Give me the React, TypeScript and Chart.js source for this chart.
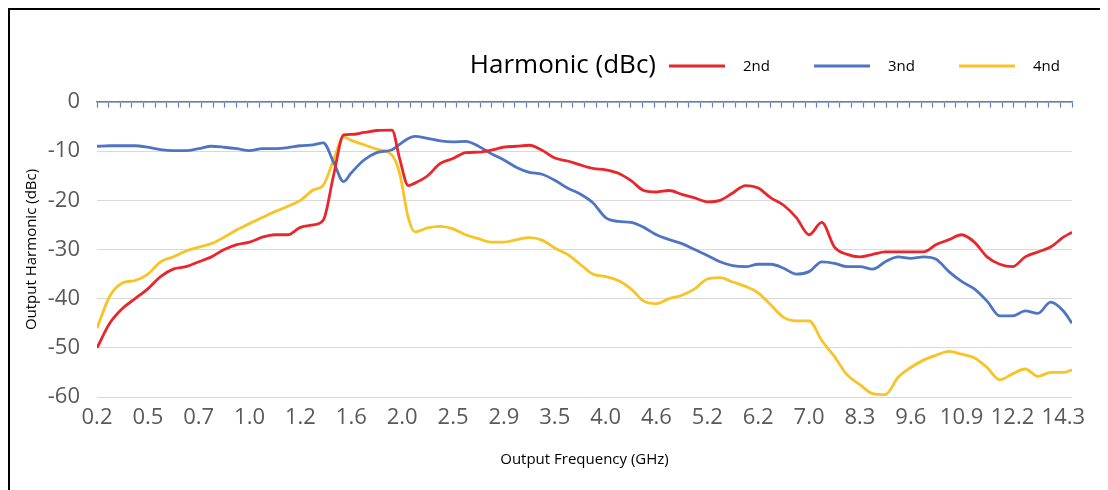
import React, { useEffect, useRef } from "react";
import { Chart, registerables } from "chart.js";

Chart.register(...registerables);

// Category labels shown along the bottom axis (evenly spaced frequencies, GHz)
const xLabels = ["0.2", "0.5", "0.7", "1.0", "1.2", "1.6", "2.0", "2.5", "2.9", "3.5", "4.0", "4.6", "5.2", "6.2", "7.0", "8.3", "9.6", "10.9", "12.2", "14.3"];

// Sample positions along the axis, in label-slot units (0 = "0.2", 19 = "14.3")
const xPos = [
  0, 0.25, 0.5, 0.75, 1, 1.25, 1.5, 1.75, 2, 2.25, 2.5, 2.75, 3, 3.25, 3.5, 3.75,
  4, 4.25, 4.45, 4.65, 4.85, 5, 5.25, 5.5, 5.8, 5.95, 6.12, 6.25, 6.5,
  6.75, 7, 7.25, 7.5, 7.75, 8, 8.25, 8.5, 8.75, 9, 9.25, 9.5, 9.75,
  10, 10.25, 10.5, 10.75, 11, 11.25, 11.5, 11.75, 12, 12.25, 12.5, 12.75, 13, 13.25, 13.5, 13.75,
  14, 14.25, 14.5, 14.75, 15, 15.25, 15.5, 15.75, 16, 16.25, 16.5, 16.75, 17, 17.25, 17.5, 17.75,
  18, 18.25, 18.5, 18.75, 19, 19.17,
];
const xMax = 19.17;

const harmonic2nd = [
  -50, -45, -42, -40, -38, -35.5, -34, -33.5, -32.5, -31.5, -30, -29, -28.5, -27.5, -27, -27,
  -25.5, -25, -24, -15, -6.7, -6.6, -6.2, -5.8, -5.7, -11.5, -17, -16.5, -15,
  -12.5, -11.5, -10.3, -10.2, -9.8, -9.2, -9, -8.8, -9.8, -11.4, -12, -12.8, -13.5,
  -13.8, -14.5, -16, -18, -18.3, -18, -18.8, -19.5, -20.3, -20, -18.5, -17, -17.5, -19.5, -21, -23.5,
  -27, -24.5, -29.5, -31, -31.5, -31, -30.5, -30.5, -30.5, -30.5, -29, -28, -27, -28.5, -31.5, -33,
  -33.5, -31.5, -30.5, -29.5, -27.5, -26.5,
];

const harmonic3rd = [
  -9, -8.9, -8.9, -8.9, -9.2, -9.7, -9.9, -9.9, -9.5, -9, -9.2, -9.5, -9.9, -9.5, -9.5, -9.3,
  -8.9, -8.7, -8.3, -12.2, -16.2, -14.4, -11.8, -10.3, -9.7, -8.6, -7.4, -7, -7.4,
  -7.9, -8.1, -8, -9, -10.5, -11.8, -13.3, -14.3, -14.7, -15.9, -17.5, -18.7, -20.5,
  -23.5, -24.3, -24.5, -25.5, -27, -28, -28.8, -30, -31.2, -32.5, -33.3, -33.5, -33, -33, -33.8, -35,
  -34.5, -32.5, -32.8, -33.5, -33.5, -34, -32.5, -31.5, -31.8, -31.5, -32, -34.5, -36.5, -38, -40.5, -43.5,
  -43.5, -42.5, -43, -40.7, -42.5, -45,
];

const harmonic4th = [
  -46, -39.5, -36.8, -36.3, -35, -32.5, -31.5, -30.3, -29.5, -28.8, -27.5, -26, -24.7, -23.5, -22.3, -21.2,
  -20, -17.9, -16.9, -11.8, -7.1, -7.8, -8.7, -9.6, -10.8, -14.5, -23.5, -26.4, -25.6,
  -25.3, -25.8, -27, -27.8, -28.5, -28.5, -28, -27.6, -28.1, -29.7, -31, -33, -35,
  -35.5, -36.3, -38, -40.5, -41, -40, -39.3, -38, -36, -35.7, -36.6, -37.5, -38.8, -41.3, -43.8, -44.5,
  -44.5, -48.5, -51.8, -55.5, -57.5, -59.3, -59.5, -56, -54, -52.5, -51.5, -50.7, -51.3, -52, -54, -56.5,
  -55.3, -54.3, -55.8, -55, -55, -54.5,
];

const seriesNames = ["2nd", "3nd", "4nd"];
const seriesColors = ["#e8262b", "#4f74c4", "#f7c325"];
const legendTitle = "Harmonic (dBc)";
const yTitle = "Output Harmonic (dBc)";
const xTitle = "Output Frequency (GHz)";
const topTickCount = 85;

const FONT = '"Open Sans", "Noto Sans", sans-serif';
const AXIS_BLUE = "#5b7fc2";

const inlineLegend = {
  id: "inlineLegend",
  afterDraw(chart: any) {
    const ctx = chart.ctx as CanvasRenderingContext2D;
    const y = 56;
    const firstX = chart.chartArea.right - 403;
    ctx.save();
    ctx.textBaseline = "middle";
    ctx.fillStyle = "#000";
    ctx.font = `26px ${FONT}`;
    ctx.textAlign = "right";
    ctx.fillText(legendTitle, firstX - 13, y);
    ctx.font = `15px ${FONT}`;
    ctx.textAlign = "left";
    chart.data.datasets.forEach((ds: any, i: number) => {
      const x0 = firstX + i * 145;
      ctx.strokeStyle = ds.borderColor;
      ctx.lineWidth = 3;
      ctx.beginPath();
      ctx.moveTo(x0, y);
      ctx.lineTo(x0 + 56, y);
      ctx.stroke();
      ctx.fillStyle = "#000";
      ctx.fillText(ds.label, x0 + 74, y + 1);
    });
    ctx.restore();
  },
};

export default function App() {
  const canvasRef = useRef<HTMLCanvasElement | null>(null);

  useEffect(() => {
    if (!canvasRef.current) return;
    const values = [harmonic2nd, harmonic3rd, harmonic4th];
    const chart = new Chart(canvasRef.current, {
      type: "line",
      data: {
        datasets: values.map((vals, s) => ({
          label: seriesNames[s],
          data: xPos.map((x, i) => ({ x, y: vals[i] })),
          borderColor: seriesColors[s],
          backgroundColor: seriesColors[s],
          borderWidth: 2.8,
          pointRadius: 0,
          cubicInterpolationMode: "monotone",
          xAxisID: "x",
          yAxisID: "y",
        })),
      },
      options: {
        responsive: false,
        animation: false,
        devicePixelRatio: 1,
        layout: { padding: { top: 92, right: 36, bottom: 13, left: 0 } },
        plugins: {
          legend: { display: false },
          tooltip: { enabled: false },
        },
        scales: {
          x: {
            type: "linear",
            position: "bottom",
            min: 0,
            max: xMax,
            afterBuildTicks: (scale: any) => {
              scale.ticks = xLabels.map((_, i) => ({ value: i }));
            },
            afterFit: (scale: any) => {
              scale.height = 80;
            },
            grid: { display: false, drawTicks: false },
            border: { display: false },
            ticks: {
              autoSkip: false,
              maxRotation: 0,
              padding: 8,
              color: "#595959",
              font: { family: FONT, size: 22 },
              callback: (v: any) => xLabels[Math.round(Number(v))] ?? "",
            },
            title: {
              display: true,
              text: xTitle,
              color: "#000",
              font: { family: FONT, size: 15 },
              padding: { top: 0, bottom: 8 },
            },
          },
          x2: {
            type: "linear",
            axis: "x",
            position: { y: 0 } as any,
            min: 0,
            max: xMax,
            afterBuildTicks: (scale: any) => {
              const t = [];
              for (let i = 0; i < topTickCount; i++) t.push({ value: (xMax * i) / (topTickCount - 1) });
              scale.ticks = t;
            },
            grid: {
              drawOnChartArea: false,
              drawTicks: true,
              tickLength: 5,
              tickColor: AXIS_BLUE,
              tickWidth: 1.2,
            },
            border: { display: true, color: AXIS_BLUE, width: 1.6 },
            ticks: { display: false },
          },
          y: {
            type: "linear",
            position: "left",
            min: -60,
            max: 0,
            afterFit: (scale: any) => {
              scale.width = 87;
            },
            ticks: {
              stepSize: 10,
              padding: 17,
              color: "#595959",
              font: { family: FONT, size: 22 },
            },
            grid: { color: "#d9d9d9", lineWidth: 1, drawTicks: false },
            border: { display: false },
            title: {
              display: true,
              text: yTitle,
              color: "#000",
              font: { family: FONT, size: 15 },
              padding: { top: 13, bottom: 0 },
            },
          },
        },
      },
      plugins: [inlineLegend],
    } as any);
    return () => chart.destroy();
  }, []);

  return (
    <div
      style={{
        width: 1100,
        height: 482,
        boxSizing: "border-box",
        borderTop: "2px solid #000",
        borderLeft: "2px solid #000",
        background: "#fff",
      }}
    >
      <canvas ref={canvasRef} width={1098} height={480} style={{ display: "block" }} />
    </div>
  );
}
